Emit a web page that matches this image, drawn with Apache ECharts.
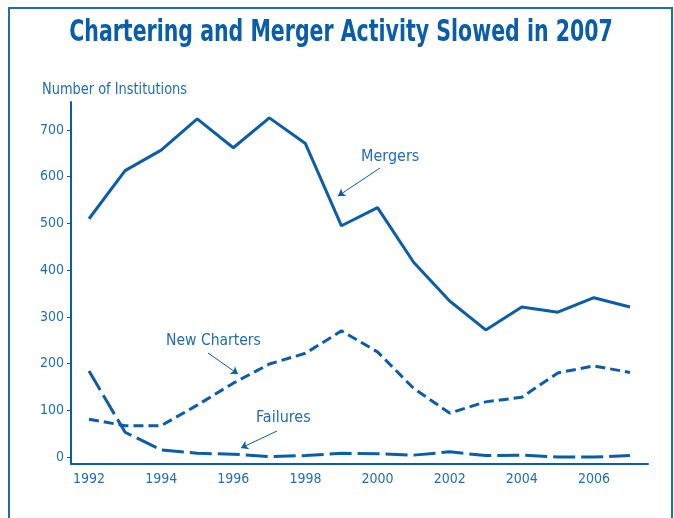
<!DOCTYPE html>
<html>
<head>
<meta charset="utf-8">
<script src="https://cdn.jsdelivr.net/npm/echarts@6/dist/echarts.min.js"></script>
<style>
  html, body { margin: 0; padding: 0; background: #fff; }
  #main { width: 674px; height: 518px; }
</style>
</head>
<body>
<div id="main"></div>
<script>
var years = ['1992', '1993', '1994', '1995', '1996', '1997', '1998', '1999',
  '2000', '2001', '2002', '2003', '2004', '2005', '2006', '2007'];
var mergers = [510, 613, 657, 724, 662, 726, 671, 495, 534, 417, 334, 272, 321, 310, 341, 321];
var newCharters = [81, 67, 67, 111, 158, 199, 222, 270, 225, 147, 94, 118, 128, 180, 195, 181];
var failures = [184, 53, 15, 8, 6, 1, 3, 8, 7, 4, 11, 3, 4, 0, 0, 3];
var yTicks = [0, 100, 200, 300, 400, 500, 600, 700];

var lineColor = '#0a5da8';
var textColor = '#1f6db6';
var font = '"DejaVu Sans Condensed", "Liberation Sans Narrow", sans-serif';

var chart = echarts.init(document.getElementById('main'));

function arrow(x1, y1, x2, y2) {
  return [{ x: x1, y: y1 }, { x: x2, y: y2 }];
}

// condensed look: plain text squeezed sideways
function label(text, x, y, size, sx) {
  return {
    type: 'text', x: x, y: y, scaleX: sx,
    style: { text: text, fill: textColor, font: size + 'px ' + font, verticalAlign: 'middle' }
  };
}

var option = {
  animation: false,
  backgroundColor: '#fff',
  grid: { left: 71, right: 26, top: 102, bottom: 54 },
  xAxis: {
    type: 'category',
    data: years,
    boundaryGap: true,
    axisLine: { onZero: false, lineStyle: { color: lineColor, width: 2 } },
    axisTick: { interval: 0, length: 4, lineStyle: { color: lineColor, width: 1 } },
    axisLabel: { interval: 1, margin: 8, color: textColor, fontFamily: font, fontSize: 14 }
  },
  yAxis: {
    type: 'value',
    min: -15,
    max: 760,
    splitLine: { show: false },
    axisLine: { show: true, lineStyle: { color: lineColor, width: 2 } },
    axisTick: { show: true, length: 4, customValues: yTicks, lineStyle: { color: lineColor, width: 1 } },
    axisLabel: { customValues: yTicks, margin: 7, color: textColor, fontFamily: font, fontSize: 14 }
  },
  graphic: [
    {
      type: 'rect',
      shape: { x: 9, y: 8, width: 663, height: 530 },
      style: { fill: null, stroke: '#1c6cb6', lineWidth: 2 },
      silent: true
    },
    {
      type: 'text', x: 341, y: 33, scaleX: 0.76,
      style: {
        text: 'Chartering and Merger Activity Slowed in 2007',
        fill: lineColor, font: 'bold 30px ' + font,
        align: 'center', verticalAlign: 'middle'
      }
    },
    label('Number of Institutions', 42, 90, 15, 0.96),
    label('Mergers', 361, 157, 16, 1),
    label('New Charters', 166, 341, 16, 0.97),
    label('Failures', 256, 418, 16, 1)
  ],
  series: [
    {
      name: 'Mergers',
      type: 'line',
      data: mergers,
      symbol: 'none',
      lineStyle: { color: lineColor, width: 3 },
      markLine: {
        silent: true,
        symbol: ['none', 'arrow'],
        symbolSize: 7,
        label: { show: false },
        lineStyle: { color: lineColor, width: 1, type: 'solid' },
        data: [
          arrow(380, 168, 338, 196),
          arrow(208, 353, 238, 374),
          arrow(277, 431, 241, 448)
        ]
      }
    },
    {
      name: 'New Charters',
      type: 'line',
      data: newCharters,
      symbol: 'none',
      lineStyle: { color: lineColor, width: 3, type: [10, 5] }
    },
    {
      name: 'Failures',
      type: 'line',
      data: failures,
      symbol: 'none',
      lineStyle: { color: lineColor, width: 3, type: [22, 6] }
    }
  ]
};

chart.setOption(option);
</script>
</body>
</html>
